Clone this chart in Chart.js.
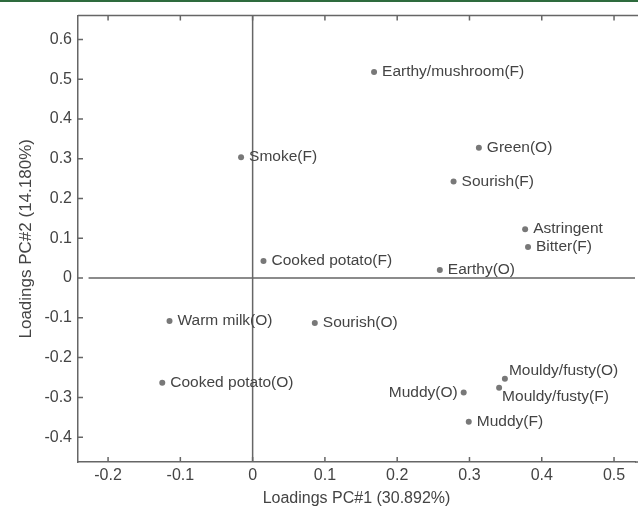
<!DOCTYPE html>
<html>
<head>
<meta charset="utf-8">
<script src="https://cdn.jsdelivr.net/npm/chart.js@4.4.1/dist/chart.umd.min.js"></script>
<style>
  html, body { margin: 0; padding: 0; background: #fff; }
  .wrap { position: relative; width: 638px; height: 507px; overflow: hidden; }
  .band { position: absolute; left: 0; top: 0; width: 638px; height: 2px; background: #2e6b3d; }
</style>
</head>
<body>
<div class="wrap">
  <canvas class="pca-chart" width="638" height="507"></canvas>
  <div class="band"></div>
</div>
<script>
const attributes = [
  "Earthy/mushroom(F)", "Green(O)", "Sourish(F)", "Astringent", "Bitter(F)",
  "Earthy(O)", "Smoke(F)", "Cooked potato(F)", "Warm milk(O)", "Sourish(O)",
  "Cooked potato(O)", "Muddy(O)", "Mouldy/fusty(O)", "Mouldy/fusty(F)", "Muddy(F)",
];
const pc1 = [0.168, 0.313, 0.278, 0.377, 0.381, 0.259, -0.016, 0.015, -0.115, 0.086, -0.125, 0.292, 0.349, 0.341, 0.299];
const pc2 = [0.518, 0.328, 0.243, 0.123, 0.078, 0.020, 0.304, 0.043, -0.108, -0.113, -0.263, -0.288, -0.253, -0.276, -0.361];

const xTicks = [-0.2, -0.1, 0, 0.1, 0.2, 0.3, 0.4, 0.5];
const yTicks = [-0.4, -0.3, -0.2, -0.1, 0, 0.1, 0.2, 0.3, 0.4, 0.5, 0.6];

const textColor = "#444";
const lineColor = "#666";
const fontFamily = "'Liberation Sans', Arial, sans-serif";

// where each label sits relative to its dot
const labelPlace = {
  "Muddy(O)": { dx: -6, dy: 0, align: "right" },
  "Mouldy/fusty(O)": { dx: 4, dy: -8, align: "left" },
  "Mouldy/fusty(F)": { dx: 3, dy: 9, align: "left" },
};

const pointLabels = {
  id: "pointLabels",
  afterDatasetsDraw(chart) {
    const ctx = chart.ctx;
    const meta = chart.getDatasetMeta(0);
    ctx.save();
    ctx.font = "15.5px " + fontFamily;
    ctx.fillStyle = textColor;
    ctx.textBaseline = "middle";
    meta.data.forEach((pt, i) => {
      const name = attributes[i];
      const p = labelPlace[name] || { dx: 8, dy: 0, align: "left" };
      ctx.textAlign = p.align;
      ctx.fillText(name, pt.x + p.dx, pt.y + p.dy);
    });
    ctx.restore();
  },
};

// zero lines, box top edge and inward tick marks
const frame = {
  id: "frame",
  beforeDatasetsDraw(chart) {
    const ctx = chart.ctx;
    const a = chart.chartArea;
    const xs = chart.scales.x;
    const ys = chart.scales.y;
    ctx.save();
    ctx.strokeStyle = lineColor;
    ctx.lineWidth = 1.5;
    ctx.beginPath();
    const x0 = xs.getPixelForValue(0);
    ctx.moveTo(x0, a.top);
    ctx.lineTo(x0, a.bottom);
    const y0 = ys.getPixelForValue(0);
    ctx.moveTo(xs.getPixelForValue(-0.227), y0);
    ctx.lineTo(a.right, y0);
    ctx.stroke();
    ctx.restore();
  },
  afterDraw(chart) {
    const ctx = chart.ctx;
    const a = chart.chartArea;
    const xs = chart.scales.x;
    const ys = chart.scales.y;
    ctx.save();
    ctx.strokeStyle = lineColor;
    ctx.lineWidth = 1.5;
    ctx.beginPath();
    ctx.moveTo(a.left, a.top);
    ctx.lineTo(a.right + 10, a.top);
    xTicks.forEach((v) => {
      const px = xs.getPixelForValue(v);
      ctx.moveTo(px, a.bottom);
      ctx.lineTo(px, a.bottom - 5);
      ctx.moveTo(px, a.top);
      ctx.lineTo(px, a.top + 5);
    });
    yTicks.forEach((v) => {
      const py = ys.getPixelForValue(v);
      ctx.moveTo(a.left, py);
      ctx.lineTo(a.left + 5, py);
    });
    ctx.moveTo(a.right, a.bottom);
    ctx.lineTo(a.right + 10, a.bottom);
    ctx.stroke();
    ctx.restore();
  },
};

const fmt = (v) => String(Number(v.toFixed(1)));

new Chart(document.querySelector(".pca-chart"), {
  type: "scatter",
  data: {
    datasets: [
      {
        label: "Loadings",
        data: attributes.map((a, i) => ({ x: pc1[i], y: pc2[i] })),
        pointRadius: 3,
        pointHoverRadius: 3,
        pointBackgroundColor: "#787878",
        pointBorderWidth: 0,
      },
    ],
  },
  options: {
    responsive: false,
    animation: false,
    events: [],
    layout: { padding: { left: 0, right: 0, top: 14, bottom: 0 } },
    plugins: {
      legend: { display: false },
      tooltip: { enabled: false },
    },
    scales: {
      x: {
        type: "linear",
        min: -0.2416,
        max: 0.529,
        afterBuildTicks: (s) => { s.ticks = xTicks.map((v) => ({ value: v })); },
        afterFit: (s) => { s.height = 45; },
        grid: { display: false, drawTicks: false },
        border: { display: true, color: lineColor, width: 1.5 },
        ticks: {
          padding: 4,
          color: textColor,
          font: { family: fontFamily, size: 16 },
          callback: fmt,
        },
        title: {
          display: true,
          text: "Loadings PC#1 (30.892%)",
          color: textColor,
          font: { family: fontFamily, size: 16, lineHeight: 1 },
          padding: { top: 0, bottom: 0 },
        },
      },
      y: {
        type: "linear",
        min: -0.4625,
        max: 0.66,
        afterBuildTicks: (s) => { s.ticks = yTicks.map((v) => ({ value: v })); },
        afterFit: (s) => { s.width = 78; },
        grid: { display: false, drawTicks: false },
        border: { display: true, color: lineColor, width: 1.5 },
        ticks: {
          padding: 6,
          color: textColor,
          font: { family: fontFamily, size: 16 },
          callback: fmt,
        },
        title: {
          display: true,
          text: "Loadings PC#2 (14.180%)",
          color: textColor,
          font: { family: fontFamily, size: 17, lineHeight: 1 },
          padding: { top: 18, bottom: 18 },
        },
      },
    },
  },
  plugins: [pointLabels, frame],
});
</script>
</body>
</html>
